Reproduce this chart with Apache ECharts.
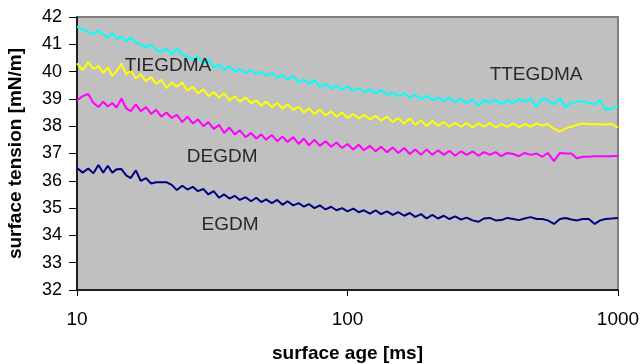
<!DOCTYPE html>
<html>
<head>
<meta charset="utf-8">
<script src="https://cdn.jsdelivr.net/npm/echarts@6/dist/echarts.min.js"></script>
<style>
  html, body { margin: 0; padding: 0; background: #fff; }
  #chart { width: 641px; height: 364px; }
</style>
</head>
<body>
<div id="chart"></div>
<script>
// surface age [ms]
const ageMs = [10, 10.5, 11, 11.5, 12, 12.5, 13, 13.5, 14, 14.6,
  15.2, 15.8, 16.5, 17.2, 18, 18.8, 19.6, 20.5, 21.4, 22.4,
  23.4, 24.5, 25.6, 26.8, 28, 29.3, 30.6, 32, 33.5, 35,
  36.6, 38.3, 40, 42, 44, 46, 48, 50, 52.5, 55,
  57.5, 60, 63, 66, 69, 72, 75.5, 79, 83, 87,
  91, 95.5, 100, 105, 110, 115, 121, 127, 133, 140,
  147, 154, 162, 170, 178, 187, 196, 206, 216, 227,
  238, 250, 263, 276, 290, 305, 320, 336, 353, 370,
  390, 410, 430, 452, 475, 500, 525, 550, 580, 610,
  640, 672, 706, 740, 780, 820, 860, 900, 950, 1000];

// surface tension [mN/m]
const ttegdma = [41.65, 41.55, 41.45, 41.38, 41.5, 41.35, 41.25, 41.42, 41.2, 41.28,
  41.1, 41.25, 41.05, 41.0, 40.88, 41.0, 40.8, 40.72, 40.85, 40.62,
  40.85, 40.6, 40.55, 40.45, 40.55, 40.3, 40.45, 40.15, 40.25, 40.05,
  40.2, 40.0, 40.1, 39.95, 40.05, 39.92, 40.0, 39.85, 39.95, 39.78,
  39.88, 39.7, 39.85, 39.6, 39.72, 39.55, 39.68, 39.45, 39.55, 39.38,
  39.5, 39.35, 39.45, 39.3, 39.4, 39.25, 39.35, 39.2, 39.32, 39.15,
  39.25, 39.1, 39.2, 39.05, 39.15, 39.0, 39.12, 38.95, 39.05, 38.92,
  39.05, 38.88, 39.0, 38.85, 38.98, 38.75, 38.95, 38.85, 38.98, 38.8,
  38.95, 38.85, 39.0, 38.9, 39.02, 38.7, 39.02, 38.95, 38.8, 39.02,
  38.7, 38.85, 38.9, 38.92, 38.85, 38.8, 38.95, 38.6, 38.65, 38.72];

const tiegdma = [40.3, 40.05, 40.35, 40.1, 40.2, 39.95, 40.15, 39.85, 40.0, 40.3,
  39.9, 40.05, 39.75, 39.9, 39.65, 39.8, 39.55, 39.7, 39.4, 39.6,
  39.45, 39.6, 39.3, 39.45, 39.2, 39.35, 39.1, 39.25, 39.05, 39.2,
  38.95, 39.1, 38.9, 39.05, 38.85, 38.95, 38.75, 38.9, 38.7, 38.85,
  38.65, 38.8, 38.6, 38.72, 38.5, 38.65, 38.45, 38.6, 38.4, 38.55,
  38.35, 38.5, 38.3, 38.45, 38.28, 38.42, 38.25, 38.38, 38.2, 38.35,
  38.15, 38.3, 38.1, 38.28, 38.05, 38.22, 38.0, 38.2, 38.02, 38.15,
  37.98, 38.12, 37.98, 38.12, 37.95, 38.1, 37.98, 38.12, 37.95, 38.08,
  37.98, 38.1, 37.97, 38.08, 37.98, 38.1, 38.02, 38.08, 37.9, 37.8,
  37.92, 37.98, 38.05, 38.1, 38.08, 38.07, 38.08, 38.06, 38.08, 37.95];

const degdm = [38.95, 39.1, 39.18, 38.85, 38.7, 38.9, 38.72, 38.85, 38.68, 39.02,
  38.65, 38.55, 38.8, 38.55, 38.7, 38.45, 38.6, 38.35, 38.5, 38.3,
  38.42, 38.15, 38.35, 38.1, 38.25, 38.0, 38.15, 37.9, 38.05, 37.75,
  37.95, 37.7, 37.85, 37.6, 37.75, 37.55, 37.7, 37.5, 37.68, 37.45,
  37.62, 37.42, 37.6, 37.35, 37.55, 37.3, 37.5, 37.28, 37.45, 37.25,
  37.4, 37.2, 37.35, 37.15, 37.32, 37.12, 37.28, 37.08, 37.25, 37.05,
  37.22, 37.02, 37.2, 36.98, 37.15, 36.95, 37.15, 36.95, 37.12, 36.95,
  37.1, 36.92, 37.08, 36.95, 37.08, 36.92, 37.05, 36.95, 37.05, 36.9,
  37.02, 36.98, 36.9, 37.02, 36.95, 37.0, 36.88, 37.02, 36.72, 37.02,
  37.0, 37.0, 36.82, 36.88, 36.88, 36.9, 36.9, 36.9, 36.9, 36.92];

const egdm = [36.47, 36.3, 36.45, 36.28, 36.58, 36.3, 36.55, 36.3, 36.42, 36.43,
  36.2, 36.1, 36.38, 36.0, 36.1, 35.9, 35.95, 35.95, 35.95, 35.85,
  35.66, 35.82, 35.68, 35.78, 35.62, 35.7, 35.5, 35.62, 35.38, 35.5,
  35.35, 35.45, 35.3, 35.4, 35.25, 35.38, 35.22, 35.32, 35.18, 35.3,
  35.12, 35.25, 35.1, 35.18, 35.05, 35.15, 35.0, 35.1, 34.95, 35.05,
  34.92, 35.0, 34.88, 34.98, 34.85, 34.92, 34.8, 34.92, 34.78, 34.88,
  34.75, 34.85, 34.72, 34.82, 34.68, 34.78, 34.62, 34.75, 34.62, 34.72,
  34.6, 34.7, 34.58, 34.65, 34.55, 34.5, 34.62, 34.64, 34.55, 34.56,
  34.64, 34.6, 34.56, 34.62, 34.67, 34.6, 34.6, 34.55, 34.42, 34.6,
  34.64, 34.58, 34.55, 34.6, 34.6, 34.42, 34.55, 34.6, 34.62, 34.64];

const yTicks = [32, 33, 34, 35, 36, 37, 38, 39, 40, 41, 42];

// name tags written inside the plot
const tagNames = ['TIEGDMA', 'TTEGDMA', 'DEGDM', 'EGDM'];
const tagAge = [21.7, 498, 34.4, 36.8];
const tagTension = [40.2, 39.88, 36.87, 34.38];

const FONT = 'Arial, "Liberation Sans", sans-serif';

function pairs(values) {
  return ageMs.map((t, i) => [t, values[i]]);
}

function lineSeries(name, values, color) {
  return {
    name: name,
    type: 'line',
    data: pairs(values),
    showSymbol: false,
    symbol: 'none',
    sampling: null,
    lineStyle: { color: color, width: 2 },
    itemStyle: { color: color },
    z: 3
  };
}

const chart = echarts.init(document.getElementById('chart'), null, { renderer: 'canvas' });

chart.setOption({
  animation: false,
  backgroundColor: '#ffffff',
  textStyle: { fontFamily: FONT },
  grid: {
    left: 77, right: 23, top: 17, bottom: 74,
    containLabel: false,
    outerBoundsMode: 'none',
    show: true,
    backgroundColor: '#C0C0C0',
    borderColor: '#808080',
    borderWidth: 2
  },
  xAxis: {
    type: 'log',
    logBase: 10,
    min: 10,
    max: 1000,
    name: 'surface age [ms]',
    nameLocation: 'middle',
    nameGap: 54,
    nameTextStyle: { color: '#000', fontSize: 19, fontWeight: 'bold', fontFamily: FONT },
    axisLine: { lineStyle: { color: '#000', width: 1.5 } },
    axisTick: { show: true, length: 6, lineStyle: { color: '#000' } },
    minorTick: { show: false },
    axisLabel: {
      color: '#000', fontSize: 19, margin: 20, fontFamily: FONT,
      formatter: v => String(Math.round(v))
    },
    splitLine: { show: false }
  },
  yAxis: {
    type: 'value',
    min: yTicks[0],
    max: yTicks[yTicks.length - 1],
    interval: 1,
    name: 'surface tension [mN/m]',
    nameLocation: 'middle',
    nameGap: 52,
    nameTextStyle: { color: '#000', fontSize: 19, fontWeight: 'bold', fontFamily: FONT },
    axisLine: { show: true, lineStyle: { color: '#000', width: 1.5 } },
    axisTick: { show: true, length: 8, lineStyle: { color: '#000' } },
    axisLabel: { color: '#000', fontSize: 18, margin: 15, fontFamily: FONT },
    splitLine: { show: false }
  },
  series: [
    lineSeries('TTEGDMA', ttegdma, '#00FFFF'),
    lineSeries('TIEGDMA', tiegdma, '#FFFF00'),
    lineSeries('DEGDM', degdm, '#FF00FF'),
    lineSeries('EGDM', egdm, '#000080'),
    {
      name: 'tags',
      type: 'scatter',
      symbolSize: 0,
      silent: true,
      z: 5,
      data: tagNames.map((n, i) => ({ name: n, value: [tagAge[i], tagTension[i]] })),
      label: {
        show: true,
        position: 'inside',
        formatter: '{b}',
        color: '#000',
        fontSize: 19,
        fontFamily: FONT
      }
    }
  ]
});
</script>
</body>
</html>
